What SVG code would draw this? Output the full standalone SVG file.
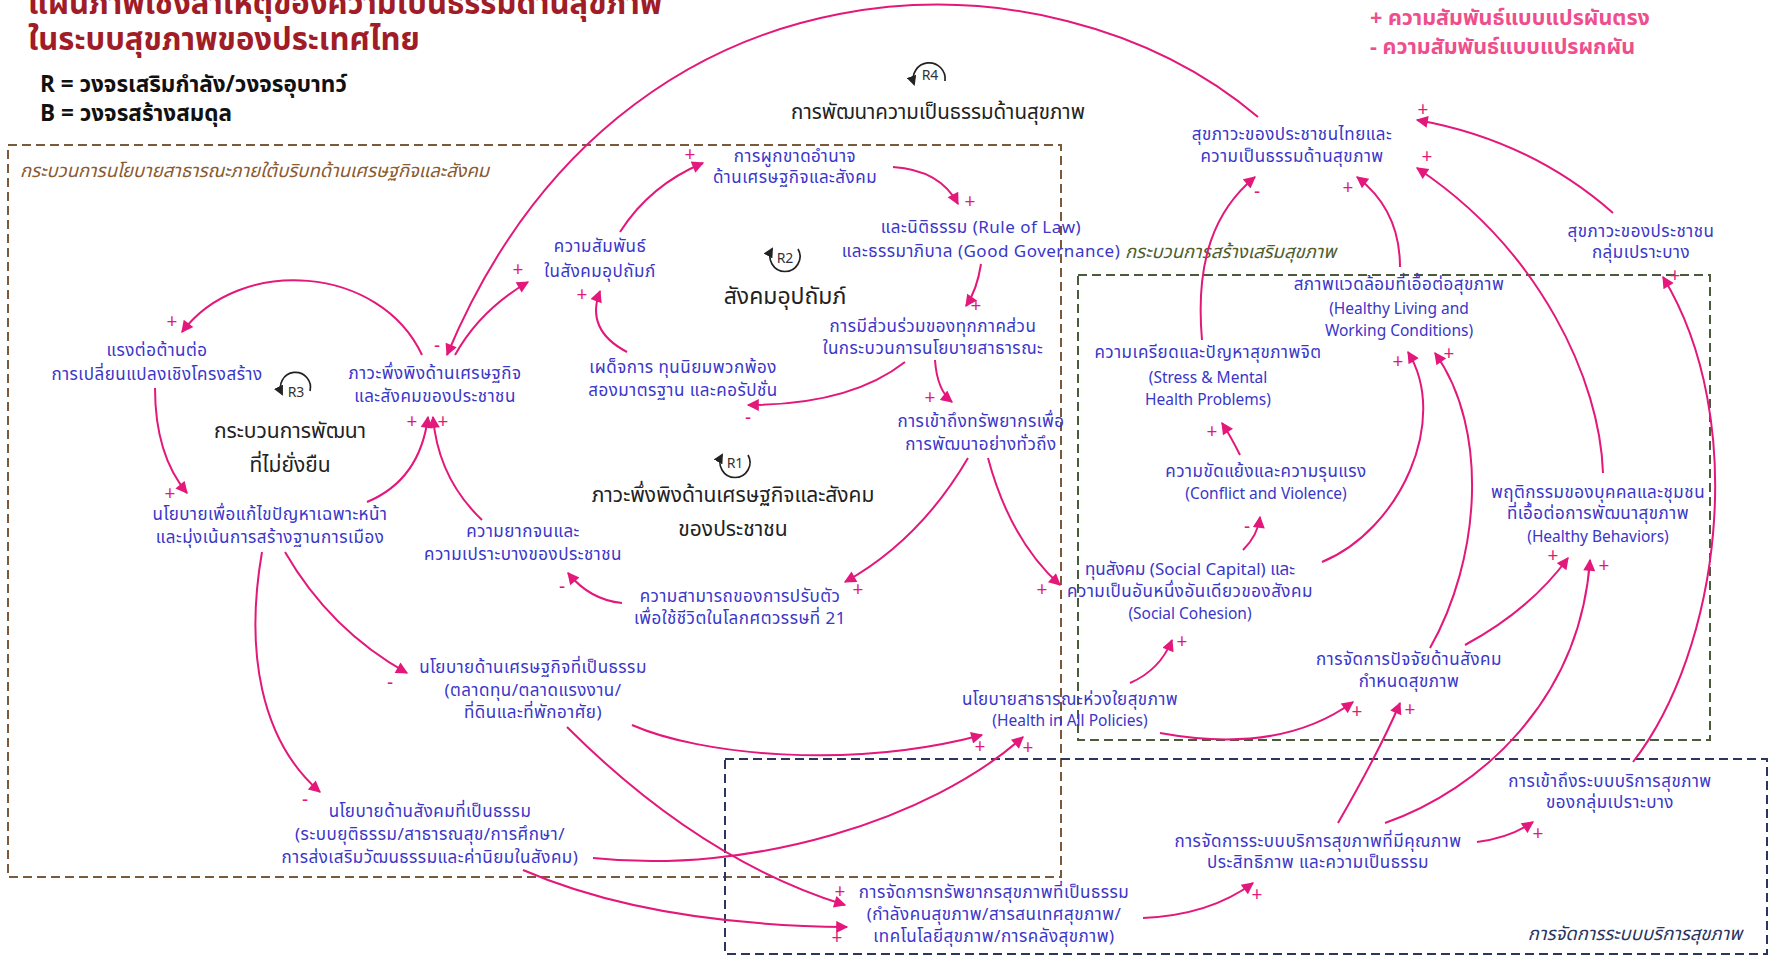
<svg xmlns="http://www.w3.org/2000/svg" width="1775" height="963" viewBox="0 0 1775 963">
<style>
text{font-family:"Noto Sans Thai","Noto Sans","DejaVu Sans",sans-serif}
.node text{font-size:17px;letter-spacing:0.5px;fill:#3a36c8;text-anchor:middle}
.node text.en{font-size:15.5px;letter-spacing:0}
.conn path{fill:none;stroke:#e3187a;stroke-width:2;marker-end:url(#ah)}
.sg{font-size:19px;fill:#e3187a;text-anchor:middle;dominant-baseline:central}
.loop path{fill:none;stroke:#222;stroke-width:1.7;marker-end:url(#la)}
.loop text.rl{font-size:14px;fill:#333;text-anchor:middle;dominant-baseline:central}
.loop text.ll{font-size:20.5px;fill:#222;text-anchor:middle}
.loop text.lb{font-size:21px;fill:#222;text-anchor:middle}
.box{fill:none;stroke-width:2;stroke-dasharray:9 5}
.bl{font-size:18.5px;font-style:italic}
</style>
<defs>
<marker id="ah" viewBox="0 0 10 10" refX="9" refY="5" markerUnits="userSpaceOnUse" markerWidth="14" markerHeight="12" orient="auto"><path d="M0,0 L10,5 L0,10 z" fill="#e3187a"/></marker>
<marker id="la" viewBox="0 0 10 10" refX="8" refY="5" markerUnits="userSpaceOnUse" markerWidth="10" markerHeight="10" orient="auto"><path d="M0,0 L10,5 L0,10 z" fill="#222"/></marker>
</defs>
<rect width="1775" height="963" fill="#fff"/>

<g id="title">
<text x="28" y="14" font-size="31" font-weight="bold" fill="#a01c26">แผนภาพเชิงสาเหตุของความเป็นธรรมด้านสุขภาพ</text>
<text x="28" y="50" font-size="31" font-weight="bold" fill="#a01c26">ในระบบสุขภาพของประเทศไทย</text>
<text x="40" y="92" font-size="22.5" font-weight="bold" fill="#111">R = วงจรเสริมกำลัง/วงจรอุบาทว์</text>
<text x="40" y="121" font-size="22.5" font-weight="bold" fill="#111">B = วงจรสร้างสมดุล</text>
</g>
<g id="legend">
<text x="1370" y="25" font-size="21.5" font-weight="bold" fill="#ee4f8c">+ ความสัมพันธ์แบบแปรผันตรง</text>
<text x="1370" y="54" font-size="21.5" font-weight="bold" fill="#ee4f8c">- ความสัมพันธ์แบบแปรผกผัน</text>
</g>

<g id="boxes">
<rect class="box" x="8" y="145" width="1053" height="732" stroke="#7a5a3a"/>
<text class="bl" x="20" y="177" fill="#8a5a30">กระบวนการนโยบายสาธารณะภายใต้บริบทด้านเศรษฐกิจและสังคม</text>
<rect class="box" x="1078" y="275" width="632" height="465" stroke="#4a5a3a"/>
<text class="bl" x="1125" y="258" fill="#4d5e2e">กระบวนการสร้างเสริมสุขภาพ</text>
<rect class="box" x="725" y="759" width="1042" height="195" stroke="#2a3560"/>
<text class="bl" x="1742" y="940" fill="#2a3560" text-anchor="end">การจัดการระบบบริการสุขภาพ</text>
</g>

<g id="loops">
<g id="R4" class="loop"><path d="M945,81 A16,16 0 1 0 914,84"/><text class="rl" x="930" y="75">R4</text><text class="ll" x="938" y="119">การพัฒนาความเป็นธรรมด้านสุขภาพ</text></g>
<g id="R2" class="loop"><path d="M798,249 A15,15 0 1 1 772,249"/><text class="rl" x="785" y="258">R2</text><text class="lb" x="785" y="304" style="font-size:23px">สังคมอุปถัมภ์</text></g>
<g id="R3" class="loop"><path d="M310,391 A15,15 0 1 0 282,394"/><text class="rl" x="296" y="392">R3</text><text class="lb" x="290" y="438">กระบวนการพัฒนา</text><text class="lb" x="290" y="472">ที่ไม่ยั่งยืน</text></g>
<g id="R1" class="loop"><path d="M748,455 A15,15 0 1 1 722,455"/><text class="rl" x="735" y="463">R1</text><text class="lb" x="733" y="502">ภาวะพึ่งพิงด้านเศรษฐกิจและสังคม</text><text class="lb" x="733" y="536">ของประชาชน</text></g>
</g>

<g id="N1" class="node"><text x="795" y="162">การผูกขาดอำนาจ</text><text x="795" y="183">ด้านเศรษฐกิจและสังคม</text></g>
<g id="N2" class="node"><text x="981" y="233">และนิติธรรม (Rule of Law)</text><text x="981" y="257">และธรรมาภิบาล (Good Governance)</text></g>
<g id="N3" class="node"><text x="600" y="252">ความสัมพันธ์</text><text x="600" y="277">ในสังคมอุปถัมภ์</text></g>
<g id="N4" class="node"><text x="157" y="356">แรงต่อต้านต่อ</text><text x="157" y="380">การเปลี่ยนแปลงเชิงโครงสร้าง</text></g>
<g id="N5" class="node"><text x="435" y="379">ภาวะพึ่งพิงด้านเศรษฐกิจ</text><text x="435" y="402">และสังคมของประชาชน</text></g>
<g id="N6" class="node"><text x="683" y="373">เผด็จการ ทุนนิยมพวกพ้อง</text><text x="683" y="396">สองมาตรฐาน และคอรัปชั่น</text></g>
<g id="N7" class="node"><text x="933" y="332">การมีส่วนร่วมของทุกภาคส่วน</text><text x="933" y="354">ในกระบวนการนโยบายสาธารณะ</text></g>
<g id="N8" class="node"><text x="981" y="427">การเข้าถึงทรัพยากรเพื่อ</text><text x="981" y="450">การพัฒนาอย่างทั่วถึง</text></g>
<g id="N9" class="node"><text x="523" y="537">ความยากจนและ</text><text x="523" y="560">ความเปราะบางของประชาชน</text></g>
<g id="N10" class="node"><text x="740" y="602">ความสามารถของการปรับตัว</text><text x="740" y="624">เพื่อใช้ชีวิตในโลกศตวรรษที่ 21</text></g>
<g id="N11" class="node"><text x="270" y="520">นโยบายเพื่อแก้ไขปัญหาเฉพาะหน้า</text><text x="270" y="543">และมุ่งเน้นการสร้างฐานการเมือง</text></g>
<g id="N12" class="node"><text x="533" y="673">นโยบายด้านเศรษฐกิจที่เป็นธรรม</text><text x="533" y="696">(ตลาดทุน/ตลาดแรงงาน/</text><text x="533" y="718">ที่ดินและที่พักอาศัย)</text></g>
<g id="N13" class="node"><text x="430" y="817">นโยบายด้านสังคมที่เป็นธรรม</text><text x="430" y="840">(ระบบยุติธรรม/สาธารณสุข/การศึกษา/</text><text x="430" y="863">การส่งเสริมวัฒนธรรมและค่านิยมในสังคม)</text></g>
<g id="N14" class="node"><text x="994" y="898">การจัดการทรัพยากรสุขภาพที่เป็นธรรม</text><text x="994" y="920">(กำลังคนสุขภาพ/สารสนเทศสุขภาพ/</text><text x="994" y="942">เทคโนโลยีสุขภาพ/การคลังสุขภาพ)</text></g>
<g id="N15" class="node"><text x="1070" y="705">นโยบายสาธารณะห่วงใยสุขภาพ</text><text class="en" x="1070" y="726">(Health in All Policies)</text></g>
<g id="N16" class="node"><text x="1318" y="847">การจัดการระบบบริการสุขภาพที่มีคุณภาพ</text><text x="1318" y="868">ประสิทธิภาพ และความเป็นธรรม</text></g>
<g id="N17" class="node"><text x="1610" y="787">การเข้าถึงระบบบริการสุขภาพ</text><text x="1610" y="808">ของกลุ่มเปราะบาง</text></g>
<g id="N18" class="node"><text x="1409" y="665">การจัดการปัจจัยด้านสังคม</text><text x="1409" y="687">กำหนดสุขภาพ</text></g>
<g id="N19" class="node"><text x="1190" y="575" style="letter-spacing:0">ทุนสังคม (Social Capital) และ</text><text x="1190" y="597">ความเป็นอันหนึ่งอันเดียวของสังคม</text><text class="en" x="1190" y="619">(Social Cohesion)</text></g>
<g id="N20" class="node"><text x="1266" y="477">ความขัดแย้งและความรุนแรง</text><text class="en" x="1266" y="499">(Conflict and Violence)</text></g>
<g id="N21" class="node"><text x="1208" y="358">ความเครียดและปัญหาสุขภาพจิต</text><text class="en" x="1208" y="383">(Stress &amp; Mental</text><text class="en" x="1208" y="405">Health Problems)</text></g>
<g id="N22" class="node"><text x="1399" y="290">สภาพแวดล้อมที่เอื้อต่อสุขภาพ</text><text class="en" x="1399" y="314">(Healthy Living and</text><text class="en" x="1399" y="336">Working Conditions)</text></g>
<g id="N23" class="node"><text x="1292" y="140">สุขภาวะของประชาชนไทยและ</text><text x="1292" y="162">ความเป็นธรรมด้านสุขภาพ</text></g>
<g id="N24" class="node"><text x="1641" y="237">สุขภาวะของประชาชน</text><text x="1641" y="258">กลุ่มเปราะบาง</text></g>
<g id="N25" class="node"><text x="1598" y="498">พฤติกรรมของบุคคลและชุมชน</text><text x="1598" y="519">ที่เอื้อต่อการพัฒนาสุขภาพ</text><text class="en" x="1598" y="542">(Healthy Behaviors)</text></g>

<g id="connectors" class="conn">
<path d="M1258,117 C1050,-60 620,-60 447,355"/>
<path d="M455,355 Q480,310 528,282"/>
<path d="M620,232 Q650,185 703,163"/>
<path d="M893,167 Q940,170 958,204"/>
<path d="M981,264 Q977,290 966,306"/>
<path d="M905,362 Q850,405 748,405"/>
<path d="M627,352 Q585,330 600,291"/>
<path d="M935,360 Q937,390 952,402"/>
<path d="M968,458 Q920,540 845,582"/>
<path d="M988,458 Q1010,540 1060,585"/>
<path d="M622,603 Q590,600 568,573"/>
<path d="M367,502 Q420,480 428,417"/>
<path d="M482,520 Q438,478 433,417"/>
<path d="M422,355 C380,265 240,255 182,332"/>
<path d="M155,388 Q155,455 187,493"/>
<path d="M262,552 C245,650 260,740 320,792"/>
<path d="M285,552 Q330,630 407,673"/>
<path d="M632,725 C700,755 850,770 982,735"/>
<path d="M567,727 Q700,860 845,905"/>
<path d="M593,858 C750,875 930,820 1023,737"/>
<path d="M523,870 Q650,925 847,927"/>
<path d="M1143,918 Q1210,915 1253,883"/>
<path d="M1130,683 Q1160,670 1172,640"/>
<path d="M1160,733 Q1280,755 1353,702"/>
<path d="M1338,823 Q1380,750 1400,703"/>
<path d="M1322,562 C1400,530 1450,420 1408,352"/>
<path d="M1430,648 C1480,560 1490,430 1435,353"/>
<path d="M1465,645 Q1530,610 1568,558"/>
<path d="M1385,823 C1480,790 1580,700 1590,560"/>
<path d="M1603,473 C1600,380 1540,250 1417,168"/>
<path d="M1613,213 Q1530,140 1417,120"/>
<path d="M1633,762 C1720,650 1750,420 1663,277"/>
<path d="M1400,267 Q1400,210 1357,177"/>
<path d="M1202,340 C1195,260 1215,210 1255,177"/>
<path d="M1240,455 Q1230,435 1222,423"/>
<path d="M1243,550 Q1258,535 1260,517"/>
<path d="M1477,842 Q1510,838 1533,822"/>
</g>

<g id="signs">
<text class="sg" x="437" y="346">-</text>
<text class="sg" x="518" y="270">+</text>
<text class="sg" x="690" y="155">+</text>
<text class="sg" x="970" y="202">+</text>
<text class="sg" x="976" y="306">+</text>
<text class="sg" x="748" y="418">-</text>
<text class="sg" x="582" y="295">+</text>
<text class="sg" x="930" y="398">+</text>
<text class="sg" x="858" y="590">+</text>
<text class="sg" x="1042" y="590">+</text>
<text class="sg" x="562" y="587">-</text>
<text class="sg" x="412" y="422">+</text>
<text class="sg" x="443" y="422">+</text>
<text class="sg" x="172" y="322">+</text>
<text class="sg" x="170" y="494">+</text>
<text class="sg" x="305" y="800">-</text>
<text class="sg" x="390" y="683">-</text>
<text class="sg" x="980" y="747">+</text>
<text class="sg" x="840" y="892">+</text>
<text class="sg" x="1028" y="748">+</text>
<text class="sg" x="837" y="938">+</text>
<text class="sg" x="1257" y="895">+</text>
<text class="sg" x="1182" y="642">+</text>
<text class="sg" x="1357" y="712">+</text>
<text class="sg" x="1410" y="710">+</text>
<text class="sg" x="1398" y="362">+</text>
<text class="sg" x="1449" y="354">+</text>
<text class="sg" x="1553" y="556">+</text>
<text class="sg" x="1604" y="566">+</text>
<text class="sg" x="1427" y="157">+</text>
<text class="sg" x="1423" y="110">+</text>
<text class="sg" x="1675" y="276">+</text>
<text class="sg" x="1348" y="188">+</text>
<text class="sg" x="1257" y="192">-</text>
<text class="sg" x="1212" y="432">+</text>
<text class="sg" x="1247" y="527">-</text>
<text class="sg" x="1538" y="834">+</text>
</g>
</svg>
